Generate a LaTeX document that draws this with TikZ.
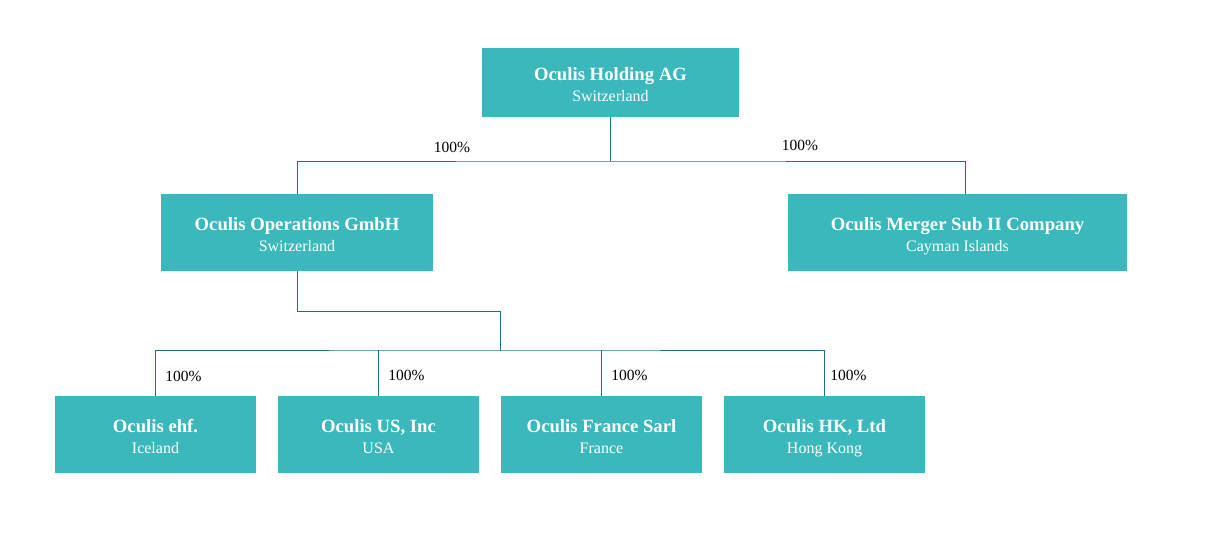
\documentclass[tikz,border=0pt]{standalone}
\usepackage{fontspec}
\setmainfont{Liberation Serif}
\definecolor{boxteal}{HTML}{3BB8BB}
\definecolor{lineteal}{HTML}{21707F}
\newcommand\corp[2]{{\fontsize{18.7}{21}\selectfont\bfseries\rule{0pt}{21pt}#1}\\#2\rule[-4pt]{0pt}{4pt}}

\begin{document}
\begin{tikzpicture}[x=1pt,y=-1pt,
	entity/.style={rectangle,fill=boxteal,text=white,inner sep=0pt,align=center,
		minimum height=77,font=\fontsize{16}{21}\selectfont},
	link/.style={draw=lineteal,line width=0.9pt},
	share/.style={inner sep=0pt,font=\fontsize{15.5}{18}\selectfont}]
	\useasboundingbox (0,0) rectangle (1219,538);
	\node[entity,minimum width=257,minimum height=69] (holding) at (610.5,82.5) {\corp{Oculis Holding AG}{Switzerland}};
	\node[entity,minimum width=272] (ops) at (297,232.5) {\corp{Oculis Operations GmbH}{Switzerland}};
	\node[entity,minimum width=339] (merger) at (957.5,232.5) {\corp{Oculis Merger Sub II Company}{Cayman Islands}};
	\node[entity,minimum width=201] (iceland) at (155.5,434.5) {\corp{Oculis ehf.}{Iceland}};
	\node[entity,minimum width=201] (us) at (378.5,434.5) {\corp{Oculis US, Inc}{USA}};
	\node[entity,minimum width=201] (france) at (601.5,434.5) {\corp{Oculis France Sarl}{France}};
	\node[entity,minimum width=201] (hk) at (824.5,434.5) {\corp{Oculis HK, Ltd}{Hong Kong}};
	% connectors
	\coordinate (topbus) at (610.5,161);
	\coordinate (mergerin) at (965,194);
	\coordinate (opsturn) at (500,311);
	\coordinate (lowbus) at (500,350);
	\draw[link] (holding.south) -- (topbus);
	\draw[link] (ops.north) |- (topbus) -| (mergerin);
	\draw[link] (ops.south) |- (opsturn) -- (lowbus);
	\draw[link] (iceland.north) |- (lowbus) -| (hk.north);
	\foreach \n in {us,france} \draw[link] (\n.north) -- (\n.north |- lowbus);
	% shares
	\node[share] (shareops) at (452,147) {100\%};
	\node[share] (sharemerger) at (800,145) {100\%};
	\node[share] (shareiceland) at (183.5,376) {100\%};
	\node[share] (shareus) at (406.5,375) {100\%};
	\node[share] (sharefrance) at (629.5,375) {100\%};
	\node[share] (sharehk) at (848.5,375) {100\%};
\end{tikzpicture}
\end{document}
